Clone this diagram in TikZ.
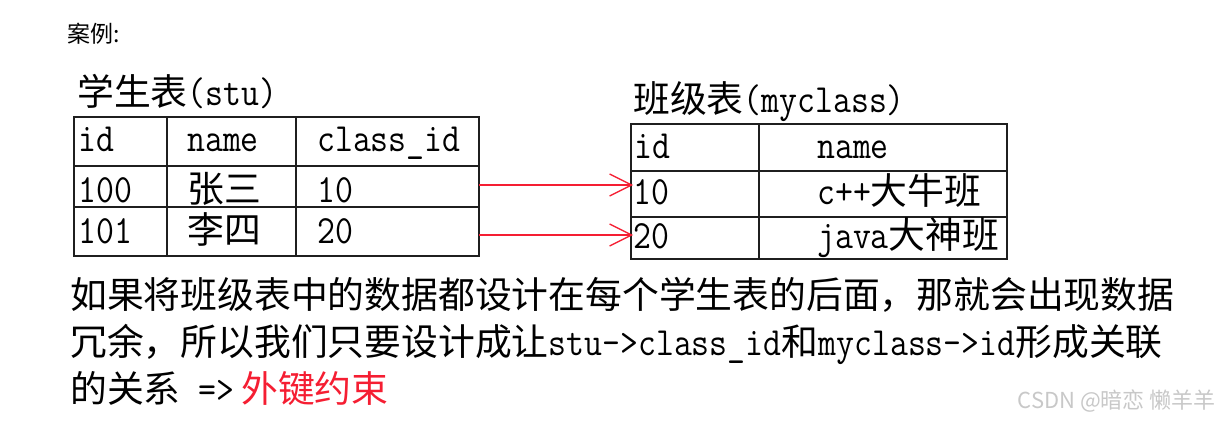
\documentclass[tikz,border=0pt]{standalone}
\usepackage{fontspec}
\setmonofont{Latin Modern Mono}[FakeStretch=0.87]
\newfontfamily\cjk{Noto Sans CJK SC}
\usepackage{xcolor}
\usepackage{tikz}
\usetikzlibrary{arrows.meta,positioning}

\definecolor{fkred}{RGB}{245,30,50}
\definecolor{wmgray}{RGB}{200,200,200}
\newcommand{\zh}[1]{{\cjk\fontsize{36.8}{40}\selectfont #1}}

\begin{document}
\begin{tikzpicture}[
  x=1pt, y=-1pt,
  cell/.style={anchor=base west, inner sep=0pt, font=\ttfamily\fontsize{40}{44}\selectfont},
  tbl/.style={line width=1.8pt, draw=black!88},
  fk/.style={-{Straight Barb[length=22pt,width=22pt]}, draw=fkred, line width=1.3pt}
]
  \useasboundingbox (0,0) rectangle (1225,420);

  \node[anchor=base west, inner sep=0pt, font=\cjk\fontsize{23}{26}\selectfont] (case) at (67,43) {案例:};

  % stu table
  \node[cell] (stutitle) at (77,105) {\zh{学生表}(stu)};
  \draw[tbl] (74,117) rectangle (479,256);
  \foreach \y in {166,207} \draw[tbl] (74,\y) -- (479,\y);
  \foreach \x in {167,296} \draw[tbl] (\x,117) -- (\x,256);
  \node[cell] (stu-id) at (78,151) {id};
  \node[cell] (stu-name) at (187,151) {name};
  \node[cell] (stu-cid) at (317,151) {class\_id};
  \node[cell] (stu-a1) at (78,202) {100};
  \node[cell] (stu-a2) at (187,202) {\zh{张三}};
  \node[cell] (stu-a3) at (317,202) {10};
  \node[cell] (stu-b1) at (78,243) {101};
  \node[cell] (stu-b2) at (187,243) {\zh{李四}};
  \node[cell] (stu-b3) at (317,243) {20};

  % myclass table
  \node[cell] (mctitle) at (633,112) {\zh{班级表}(myclass)};
  \draw[tbl] (631,124) rectangle (1007,259);
  \foreach \y in {171,217} \draw[tbl] (631,\y) -- (1007,\y);
  \draw[tbl] (759,124) -- (759,259);
  \node[cell] (mc-id) at (634,158) {id};
  \node[cell] (mc-name) at (817,158) {name};
  \node[cell] (mc-a1) at (633,204) {10};
  \node[cell] (mc-a2) at (817,204) {c++\zh{大牛班}};
  \node[cell] (mc-b1) at (633,248) {20};
  \node[cell] (mc-b2) at (817,248) {java\zh{大神班}};

  % foreign key links
  \coordinate (s1) at (479,185);
  \coordinate (m1) at (633,185);
  \coordinate (s2) at (479,235);
  \coordinate (m2) at (633,235);
  \draw[fk] (s1) -- (m1);
  \draw[fk] (s2) -- (m2);

  % explanation
  \node[cell] (line1) at (70,308) {\zh{如果将班级表中的数据都设计在每个学生表的后面，那就会出现数据}};
  \node[cell] (line2) at (70,355) {\zh{冗余，所以我们只要设计成让}stu->class\_id\zh{和}myclass->id\zh{形成关联}};
  \node[cell] (line3) at (70,402) {\zh{的关系} =>\hspace{7pt}\textcolor{fkred}{\zh{外键约束}}};

  \node[anchor=base east, inner sep=0pt, text=wmgray, font=\cjk\fontsize{22}{24}\selectfont] (mark) at (1216,408) {CSDN @暗恋 懒羊羊};
\end{tikzpicture}
\end{document}
